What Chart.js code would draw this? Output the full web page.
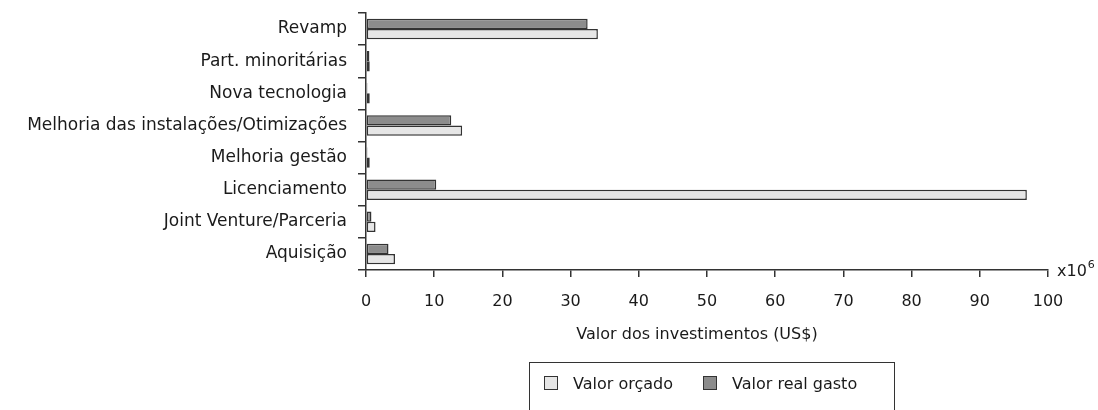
<!DOCTYPE html>
<html>
<head>
<meta charset="utf-8">
<script src="https://cdn.jsdelivr.net/npm/chart.js@4.4.1/dist/chart.umd.min.js"></script>
<style>
    html, body { margin: 0; padding: 0; background: #fff; overflow: hidden; }
    #wrap { position: relative; width: 1098px; height: 410px; }
    #legend {
        position: absolute; left: 529px; top: 362px; width: 366px; height: 80px;
        border: 1.5px solid #333; box-sizing: border-box;
        font-family: "DejaVu Sans", sans-serif; font-size: 16px; color: #1a1a1a;
    }
    #legend .item { position: absolute; top: 10px; line-height: 22px; white-space: nowrap; }
    #legend .box { display: inline-block; width: 12px; height: 12px; border: 1.5px solid #333; vertical-align: -1px; margin-right: 15px; }
</style>
</head>
<body>
<div id="wrap">
    <canvas id="chart" width="1098" height="410"></canvas>
    <div id="legend"></div>
</div>
<script>
"use strict";

// Categories (top to bottom)
const categories = [
    'Revamp',
    'Part. minoritárias',
    'Nova tecnologia',
    'Melhoria das instalações/Otimizações',
    'Melhoria gestão',
    'Licenciamento',
    'Joint Venture/Parceria',
    'Aquisição'
];

// Values in millions of US$
const valorRealGasto = [32.5, 0.5, 0.2, 12.5, 0.2, 10.3, 0.8, 3.3];
const valorOrcado = [34.0, 0.55, 0.55, 14.1, 0.55, 96.9, 1.4, 4.25];

const xTicks = [0, 10, 20, 30, 40, 50, 60, 70, 80, 90, 100];

const FONT = '"DejaVu Sans", sans-serif';
const INK = '#1a1a1a';
const LINE = '#333';
const DARK = '#8c8c8c';
const LIGHT = '#e6e6e6';

// Legend (HTML), orçado first
const legendItems = [
    { label: 'Valor orçado', color: LIGHT, left: 14 },
    { label: 'Valor real gasto', color: DARK, left: 173 }
];
const legendEl = document.getElementById('legend');
legendItems.forEach(item => {
    const div = document.createElement('div');
    div.className = 'item';
    div.style.left = item.left + 'px';
    div.innerHTML = '<span class="box" style="background:' + item.color + '"></span>' + item.label;
    legendEl.appendChild(div);
});

/**
 * Draws the axis title and the x10^6 multiplier
 */
const axisTextPlugin = {
    id: 'axisText',
    afterDraw(chart) {
        const ctx = chart.ctx;
        const area = chart.chartArea;
        ctx.save();
        ctx.fillStyle = INK;
        ctx.textBaseline = 'middle';

        ctx.textAlign = 'center';
        ctx.font = '16px ' + FONT;
        ctx.fillText('Valor dos investimentos (US$)', 697, area.bottom + 65);

        ctx.textAlign = 'left';
        const x = area.right + 9;
        const y = area.bottom + 2;
        ctx.fillText('x10', x, y);
        const w = ctx.measureText('x10').width;
        ctx.font = '11px ' + FONT;
        ctx.fillText('6', x + w + 1, y - 7);
        ctx.restore();
    }
};

new Chart(document.getElementById('chart').getContext('2d'), {
    type: 'bar',
    data: {
        labels: categories,
        datasets: [
            {
                label: 'Valor real gasto',
                data: valorRealGasto,
                backgroundColor: DARK,
                borderColor: LINE,
                borderWidth: 1.5,
                borderSkipped: false,
                categoryPercentage: 0.64,
                barPercentage: 1.0
            },
            {
                label: 'Valor orçado',
                data: valorOrcado,
                backgroundColor: LIGHT,
                borderColor: LINE,
                borderWidth: 1.5,
                borderSkipped: false,
                categoryPercentage: 0.64,
                barPercentage: 1.0
            }
        ]
    },
    options: {
        indexAxis: 'y',
        responsive: false,
        animation: false,
        devicePixelRatio: 1,
        layout: { padding: { top: 13, right: 50, left: 0, bottom: 0 } },
        plugins: {
            legend: { display: false },
            tooltip: { enabled: false }
        },
        scales: {
            x: {
                min: 0,
                max: 100,
                afterBuildTicks: (scale) => {
                    scale.ticks = xTicks.map(v => ({ value: v }));
                },
                afterFit: (scale) => { scale.height = 140; },
                border: { color: LINE, width: 1.5 },
                grid: {
                    drawOnChartArea: false,
                    drawTicks: true,
                    tickLength: 7,
                    color: LINE,
                    lineWidth: 1.5
                },
                ticks: {
                    color: INK,
                    font: { family: FONT, size: 16 },
                    padding: 15,
                    maxRotation: 0
                }
            },
            y: {
                afterFit: (scale) => {
                    scale.width = 366;
                    scale.paddingTop = 0;
                    scale.paddingBottom = 0;
                },
                border: { color: LINE, width: 1.5 },
                grid: {
                    offset: true,
                    drawOnChartArea: false,
                    drawTicks: true,
                    tickLength: 8,
                    color: LINE,
                    lineWidth: 1.5
                },
                ticks: {
                    color: INK,
                    font: { family: FONT, size: 17 },
                    padding: 11
                }
            }
        }
    },
    plugins: [axisTextPlugin]
});
</script>
</body>
</html>
